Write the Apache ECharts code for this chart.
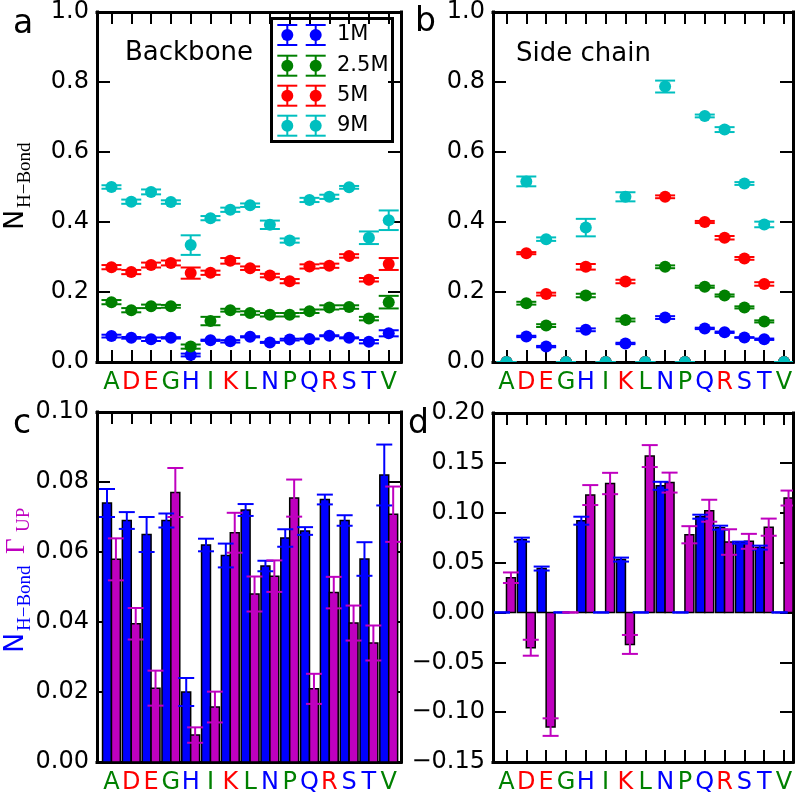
<!DOCTYPE html>
<html>
<head>
<meta charset="utf-8">
<script src="https://cdn.jsdelivr.net/npm/echarts@6/dist/echarts.min.js"></script>
<style>
html,body{margin:0;padding:0;background:#fff;}
#chart{width:800px;height:795px;}
</style>
</head>
<body>
<div id="chart"></div>
<script>
// ---------------- data ----------------
const residues = ['A','D','E','G','H','I','K','L','N','P','Q','R','S','T','V'];
const residueClass = ['g','r','r','g','b','g','r','g','b','g','b','r','b','b','g'];

const legendLabels = ['1M','2.5M','5M','9M'];

// Panel a: backbone N_H-Bond
const bb1M     = [0.074,0.069,0.065,0.069,0.020,0.062,0.059,0.072,0.056,0.064,0.066,0.075,0.069,0.058,0.082];
const bb1MErr  = [0.004,0.0024,0.005,0.002,0.004,0.0018,0.0034,0.0017,0.0015,0.0025,0.0011,0.0014,0.0015,0.0048,0.0087];
const bb25M    = [0.171,0.148,0.159,0.159,0.044,0.117,0.148,0.140,0.135,0.135,0.145,0.156,0.157,0.124,0.171];
const bb25MErr = [0.006,0.006,0.005,0.004,0.006,0.012,0.004,0.005,0.005,0.005,0.005,0.006,0.005,0.005,0.018];
const bb5M     = [0.271,0.257,0.277,0.283,0.254,0.255,0.289,0.268,0.247,0.231,0.273,0.275,0.303,0.235,0.280];
const bb5MErr  = [0.006,0.006,0.007,0.007,0.016,0.006,0.008,0.005,0.005,0.006,0.006,0.006,0.005,0.005,0.017];
const bb9M     = [0.500,0.458,0.486,0.457,0.334,0.411,0.435,0.448,0.392,0.347,0.463,0.472,0.499,0.355,0.405];
const bb9MErr  = [0.005,0.006,0.007,0.005,0.028,0.006,0.006,0.005,0.012,0.006,0.006,0.006,0.004,0.018,0.028];

// Panel b: side chain N_H-Bond
const sc1M     = [0,0.073,0.044,0,0.092,0,0.053,0,0.127,0,0.096,0.085,0.070,0.065,0];
const sc1MErr  = [0,0.002,0.002,0,0.004,0,0.002,0,0.004,0,0.002,0.002,0.001,0.002,0];
const sc25M    = [0,0.168,0.104,0,0.190,0,0.120,0,0.272,0,0.215,0.190,0.156,0.116,0];
const sc25MErr = [0,0.004,0.004,0,0.005,0,0.004,0,0.004,0,0.003,0.003,0.003,0.003,0];
const sc5M     = [0,0.311,0.194,0,0.272,0,0.230,0,0.472,0,0.400,0.355,0.296,0.223,0];
const sc5MErr  = [0,0.003,0.004,0,0.008,0,0.005,0,0.004,0,0.003,0.005,0.004,0.005,0];
const sc9M     = [0,0.516,0.351,0,0.384,0,0.472,0,0.787,0,0.703,0.664,0.510,0.393,0];
const sc9MErr  = [0,0.014,0.005,0,0.025,0,0.013,0,0.017,0,0.004,0.007,0.004,0.008,0];

// Panel c: backbone Gamma_UP (with 1M N_H-Bond in blue)
const bbGamma    = [0.0579,0.0395,0.0211,0.077,0.0077,0.0157,0.0655,0.048,0.0531,0.0754,0.0209,0.0484,0.0397,0.034,0.0708];
const bbGammaErr = [0.006,0.0045,0.005,0.007,0.0022,0.0044,0.0057,0.005,0.0045,0.0053,0.0043,0.0045,0.005,0.005,0.0079];

// Panel d: side chain Gamma_UP (with 1M N_H-Bond in blue)
const scGamma    = [0.0348,-0.0354,-0.115,0,0.1177,0.1293,-0.0321,0.1568,0.1302,0.0779,0.102,0.0706,0.0713,0.0855,0.1147];
const scGammaErr = [0.0053,0.008,0.0088,0,0.01,0.0107,0.0095,0.011,0.01,0.0086,0.011,0.0128,0.0075,0.0086,0.0075];

const yTicksAB = [0,0.2,0.4,0.6,0.8,1.0];

// ---------------- styles ----------------
const C = {b:'#0000ff', g:'#008000', r:'#ff0000', c:'#00bfbf', m:'#bf00bf'};
const FONT = 'DejaVu Sans';
const SERIF = 'Liberation Serif';
const BAR_W = 0.45;
const tickIdx = residues.map((_, i) => i);

const grids = [
  {left: 97, top: 10, width: 304, height: 352},
  {left: 493, top: 10, width: 300, height: 352},
  {left: 97, top: 412, width: 304, height: 351},
  {left: 493, top: 413, width: 300, height: 350}
];
const xr = [[-0.73,14.62],[-0.68,14.45],[-0.73,14.62],[-0.68,14.45]];
const yr = [[0,1,0.2,1],[0,1,0.2,1],[0,0.1,0.02,2],[-0.15,0.2,0.05,2]];

const axisLineStyle = {color:'#000', width:3, cap:'square'};
const tickLine = {color:'#000', width:2};

const xAxes = [], yAxes = [];
grids.forEach((g, i) => {
  xAxes.push({
    type:'value', gridIndex:i, min:xr[i][0], max:xr[i][1], position:'bottom',
    axisLine:{show:true, onZero:false, lineStyle:axisLineStyle},
    axisTick:{show:true, inside:true, length:12, lineStyle:tickLine, customValues:tickIdx},
    axisLabel:{show:true, customValues:tickIdx, margin:9,
      formatter:(v)=>{const k=Math.round(v); return '{'+residueClass[k]+'|'+residues[k]+'}';},
      rich:{
        g:{color:C.g, fontSize:24, fontFamily:FONT},
        r:{color:C.r, fontSize:24, fontFamily:FONT},
        b:{color:C.b, fontSize:24, fontFamily:FONT}
      }},
    splitLine:{show:false}
  });
  xAxes.push({
    type:'value', gridIndex:i, min:xr[i][0], max:xr[i][1], position:'top',
    axisLine:{show:true, onZero:false, lineStyle:axisLineStyle},
    axisTick:{show:true, inside:true, length:12, lineStyle:tickLine, customValues:tickIdx},
    axisLabel:{show:false},
    splitLine:{show:false}
  });
  const dec = yr[i][3];
  yAxes.push({
    type:'value', gridIndex:i, min:yr[i][0], max:yr[i][1], interval:yr[i][2], position:'left',
    axisLine:{show:true, onZero:false, lineStyle:axisLineStyle},
    axisTick:{show:true, inside:true, length:13, lineStyle:tickLine},
    axisLabel:{show:true, margin:8, fontSize:24, fontFamily:FONT, color:'#000',
      showMinLabel:true, showMaxLabel:true,
      formatter:(v)=>{const s=Math.abs(v).toFixed(dec); return (v < -1e-9 ? '\u2212' : '') + s;}},
    splitLine:{show:false}
  });
  yAxes.push({
    type:'value', gridIndex:i, min:yr[i][0], max:yr[i][1], interval:yr[i][2], position:'right',
    axisLine:{show:true, onZero:false, lineStyle:axisLineStyle},
    axisTick:{show:true, inside:true, length:13, lineStyle:tickLine},
    axisLabel:{show:false},
    splitLine:{show:false}
  });
});

function pointRender(color) {
  return function(params, api) {
    const x = api.value(0), y = api.value(1), e = api.value(2);
    const c = api.coord([x, y]);
    const t = api.coord([x, y + e]);
    const b = api.coord([x, y - e]);
    const hw = 10;
    const st = {stroke:color, lineWidth:2};
    return {type:'group', children:[
      {type:'line', shape:{x1:c[0], y1:t[1], x2:c[0], y2:b[1]}, style:st},
      {type:'line', shape:{x1:c[0]-hw, y1:t[1], x2:c[0]+hw, y2:t[1]}, style:st},
      {type:'line', shape:{x1:c[0]-hw, y1:b[1], x2:c[0]+hw, y2:b[1]}, style:st},
      {type:'circle', shape:{cx:c[0], cy:c[1], r:6}, style:{fill:color}}
    ]};
  };
}
function barRender(color, offset) {
  return function(params, api) {
    const x = api.value(0), y = api.value(1);
    const p0 = api.coord([x + offset, 0]);
    const p1 = api.coord([x + offset + BAR_W, y]);
    return {type:'rect',
      shape:{x:p0[0], y:Math.min(p0[1], p1[1]), width:p1[0]-p0[0], height:Math.abs(p1[1]-p0[1])},
      style:{fill:color, stroke:'#000', lineWidth:1.5}};
  };
}
function barErrRender(color, offset) {
  return function(params, api) {
    const x = api.value(0) + offset + BAR_W/2, y = api.value(1), e = api.value(2);
    const t = api.coord([x, y + e]);
    const b = api.coord([x, y - e]);
    const hw = 8;
    const st = {stroke:color, lineWidth:2};
    return {type:'group', children:[
      {type:'line', shape:{x1:t[0], y1:t[1], x2:t[0], y2:b[1]}, style:st},
      {type:'line', shape:{x1:t[0]-hw, y1:t[1], x2:t[0]+hw, y2:t[1]}, style:st},
      {type:'line', shape:{x1:t[0]-hw, y1:b[1], x2:t[0]+hw, y2:b[1]}, style:st}
    ]};
  };
}
function mk(vals, errs) { return vals.map((v, i) => [i, v, errs[i]]); }
function custom(panel, data, render) {
  return {type:'custom', xAxisIndex:panel*2, yAxisIndex:panel*2, clip:true,
    data:data, encode:{x:0, y:1}, renderItem:render, silent:true};
}

const series = [
  custom(0, mk(bb1M, bb1MErr), pointRender(C.b)),
  custom(0, mk(bb25M, bb25MErr), pointRender(C.g)),
  custom(0, mk(bb5M, bb5MErr), pointRender(C.r)),
  custom(0, mk(bb9M, bb9MErr), pointRender(C.c)),
  custom(1, mk(sc1M, sc1MErr), pointRender(C.b)),
  custom(1, mk(sc25M, sc25MErr), pointRender(C.g)),
  custom(1, mk(sc5M, sc5MErr), pointRender(C.r)),
  custom(1, mk(sc9M, sc9MErr), pointRender(C.c)),
  custom(2, mk(bb1M, bb1MErr), barRender(C.b, -BAR_W)),
  custom(2, mk(bbGamma, bbGammaErr), barRender(C.m, 0)),
  custom(2, mk(bb1M, bb1MErr), barErrRender(C.b, -BAR_W)),
  custom(2, mk(bbGamma, bbGammaErr), barErrRender(C.m, 0)),
  custom(3, mk(sc1M, sc1MErr), barRender(C.b, -BAR_W)),
  custom(3, mk(scGamma, scGammaErr), barRender(C.m, 0)),
  custom(3, mk(sc1M, sc1MErr), barErrRender(C.b, -BAR_W)),
  custom(3, mk(scGamma, scGammaErr), barErrRender(C.m, 0))
];

// ---------------- graphics (legend, titles, panel letters) ----------------
const graphics = [];
function txt(x, y, s, size, color, family, align, vAlign) {
  return {type:'text', x:x, y:y, z:100,
    style:{text:s, fontSize:size, fill:color||'#000', fontFamily:family||FONT,
      align:align||'left', verticalAlign:vAlign||'middle'}};
}
// panel letters
graphics.push(txt(13, 24, 'a', 33));
graphics.push(txt(415, 22, 'b', 33));
graphics.push(txt(13, 424, 'c', 33));
graphics.push(txt(408, 424, 'd', 33));
// inset titles
graphics.push(txt(125, 53, 'Backbone', 26));
graphics.push(txt(516, 54, 'Side chain', 26));

// legend
const legendColors = [C.b, C.g, C.r, C.c];
const legendChildren = [
  {type:'rect', shape:{x:271.5, y:18.5, width:121, height:123}, style:{fill:'#fff', stroke:'#000', lineWidth:3}}
];
const rowsY = [35, 65.7, 95.7, 125.7];
legendLabels.forEach((lab, k) => {
  const col = legendColors[k], y = rowsY[k];
  [287.3, 315.7].forEach(x => {
    const st = {stroke:col, lineWidth:2};
    legendChildren.push({type:'line', shape:{x1:x, y1:y-10, x2:x, y2:y+10}, style:st});
    legendChildren.push({type:'line', shape:{x1:x-10, y1:y-10, x2:x+10, y2:y-10}, style:st});
    legendChildren.push({type:'line', shape:{x1:x-10, y1:y+10, x2:x+10, y2:y+10}, style:st});
    legendChildren.push({type:'circle', shape:{cx:x, cy:y, r:6}, style:{fill:col}});
  });
  legendChildren.push({type:'text', x:337, y:y, style:{text:lab, fontSize:21, fill:'#000', fontFamily:FONT, verticalAlign:'middle'}});
});
graphics.push({type:'group', z:100, children:legendChildren});

// y-axis titles (rotated)
graphics.push({type:'group', x:16, y:230, rotation:Math.PI/2, z:100, children:[
  {type:'text', x:0, y:0, style:{text:'N', fontSize:27, fontFamily:FONT, fill:'#000', verticalAlign:'middle'}},
  {type:'text', x:22, y:9, style:{text:'H\u2212Bond', fontSize:19, fontFamily:SERIF, fill:'#000', verticalAlign:'middle'}}
]});
graphics.push({type:'group', x:16, y:653, rotation:Math.PI/2, z:100, children:[
  {type:'text', x:0, y:0, style:{text:'N', fontSize:27, fontFamily:FONT, fill:C.b, verticalAlign:'middle'}},
  {type:'text', x:22, y:9, style:{text:'H\u2212Bond', fontSize:19, fontFamily:SERIF, fill:C.b, verticalAlign:'middle'}},
  {type:'text', x:99, y:1, style:{text:'\u0393', fontSize:27, fontFamily:SERIF, fill:C.m, verticalAlign:'middle'}},
  {type:'text', x:121, y:8, style:{text:'UP', fontSize:19, fontFamily:SERIF, fill:C.m, verticalAlign:'middle'}}
]});

const chart = echarts.init(document.getElementById('chart'), null, {renderer:'canvas'});
chart.setOption({
  backgroundColor:'#fff',
  animation:false,
  grid:grids,
  xAxis:xAxes,
  yAxis:yAxes,
  series:series,
  graphic:graphics
});
</script>
</body>
</html>
